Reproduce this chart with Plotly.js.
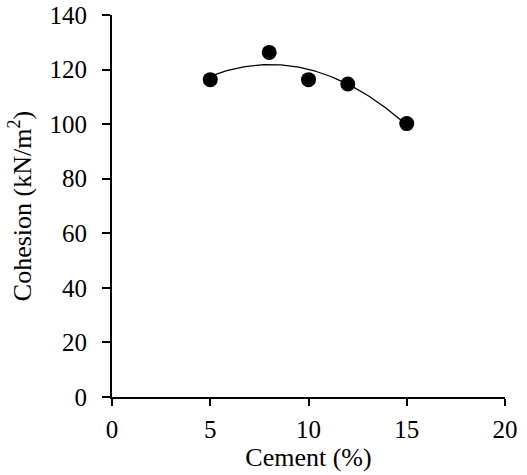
<!DOCTYPE html>
<html><head><meta charset="utf-8">
<script src="https://cdn.plot.ly/plotly-3.0.1.min.js"></script>
<style>html,body{margin:0;padding:0;background:#fff}#chart{width:527px;height:475px}</style>
</head><body><div id="chart"></div>
<script>
const cement = [5, 8, 10, 12, 15];
const cohesion = [116.3, 126.3, 116.3, 114.7, 100.2];
const xTicks = [0, 5, 10, 15, 20];
const yTicks = [0, 20, 40, 60, 80, 100, 120, 140];

// second-order polynomial trendline (least squares) through the data
function polyFit2(xs, ys) {
  let S = [0,0,0,0,0], T = [0,0,0];
  for (let i = 0; i < xs.length; i++) {
    let p = 1;
    for (let k = 0; k < 5; k++) { S[k] += p; if (k < 3) T[k] += p * ys[i]; p *= xs[i]; }
  }
  const A = [[S[0],S[1],S[2],T[0]],[S[1],S[2],S[3],T[1]],[S[2],S[3],S[4],T[2]]];
  for (let c = 0; c < 3; c++) {
    for (let r = c + 1; r < 3; r++) {
      const f = A[r][c] / A[c][c];
      for (let k = c; k < 4; k++) A[r][k] -= f * A[c][k];
    }
  }
  const b = [0,0,0];
  for (let r = 2; r >= 0; r--) {
    let s = A[r][3];
    for (let k = r + 1; k < 3; k++) s -= A[r][k] * b[k];
    b[r] = s / A[r][r];
  }
  return b;
}
const coef = polyFit2(cement, cohesion);
const xMin = Math.min(...cement), xMax = Math.max(...cement);
const trendX = [], trendY = [];
for (let i = 0; i <= 100; i++) {
  const x = xMin + (xMax - xMin) * i / 100;
  trendX.push(x);
  trendY.push(coef[0] + coef[1] * x + coef[2] * x * x);
}

const font = {family: 'Liberation Serif, Times New Roman, serif', color: '#000', size: 25};
const titleFont = {family: 'Liberation Serif, Times New Roman, serif', color: '#000', size: 26};
const data = [
  {x: trendX, y: trendY, mode: 'lines', line: {color: '#000', width: 1.3}, hoverinfo: 'skip'},
  {x: cement, y: cohesion, mode: 'markers', marker: {color: '#000', size: 15}}
];
const layout = {
  width: 527, height: 475,
  margin: {l: 112, r: 22, t: 15, b: 78},
  showlegend: false,
  paper_bgcolor: '#fff', plot_bgcolor: '#fff',
  font: font,
  xaxis: {
    range: [0, 20], tickvals: xTicks, ticktext: xTicks.map(String),
    showgrid: false, zeroline: false, showline: true, linecolor: '#000', linewidth: 2,
    ticks: 'outside', ticklen: 7, tickwidth: 2, tickcolor: '#000',
    tickfont: font, ticklabelstandoff: 2,
    title: {text: 'Cement (%)', font: titleFont, standoff: 0}
  },
  yaxis: {
    range: [0, 140], tickvals: yTicks, ticktext: yTicks.map(String),
    showgrid: false, zeroline: false, showline: true, linecolor: '#000', linewidth: 2,
    ticks: 'outside', ticklen: 8, tickwidth: 2, tickcolor: '#000',
    tickfont: font, ticklabelstandoff: 10,
    title: {text: 'Cohesion (kN/m<sup>2</sup>)', font: titleFont, standoff: 10}
  }
};
Plotly.newPlot('chart', data, layout, {displayModeBar: false, staticPlot: true});
</script></body></html>
